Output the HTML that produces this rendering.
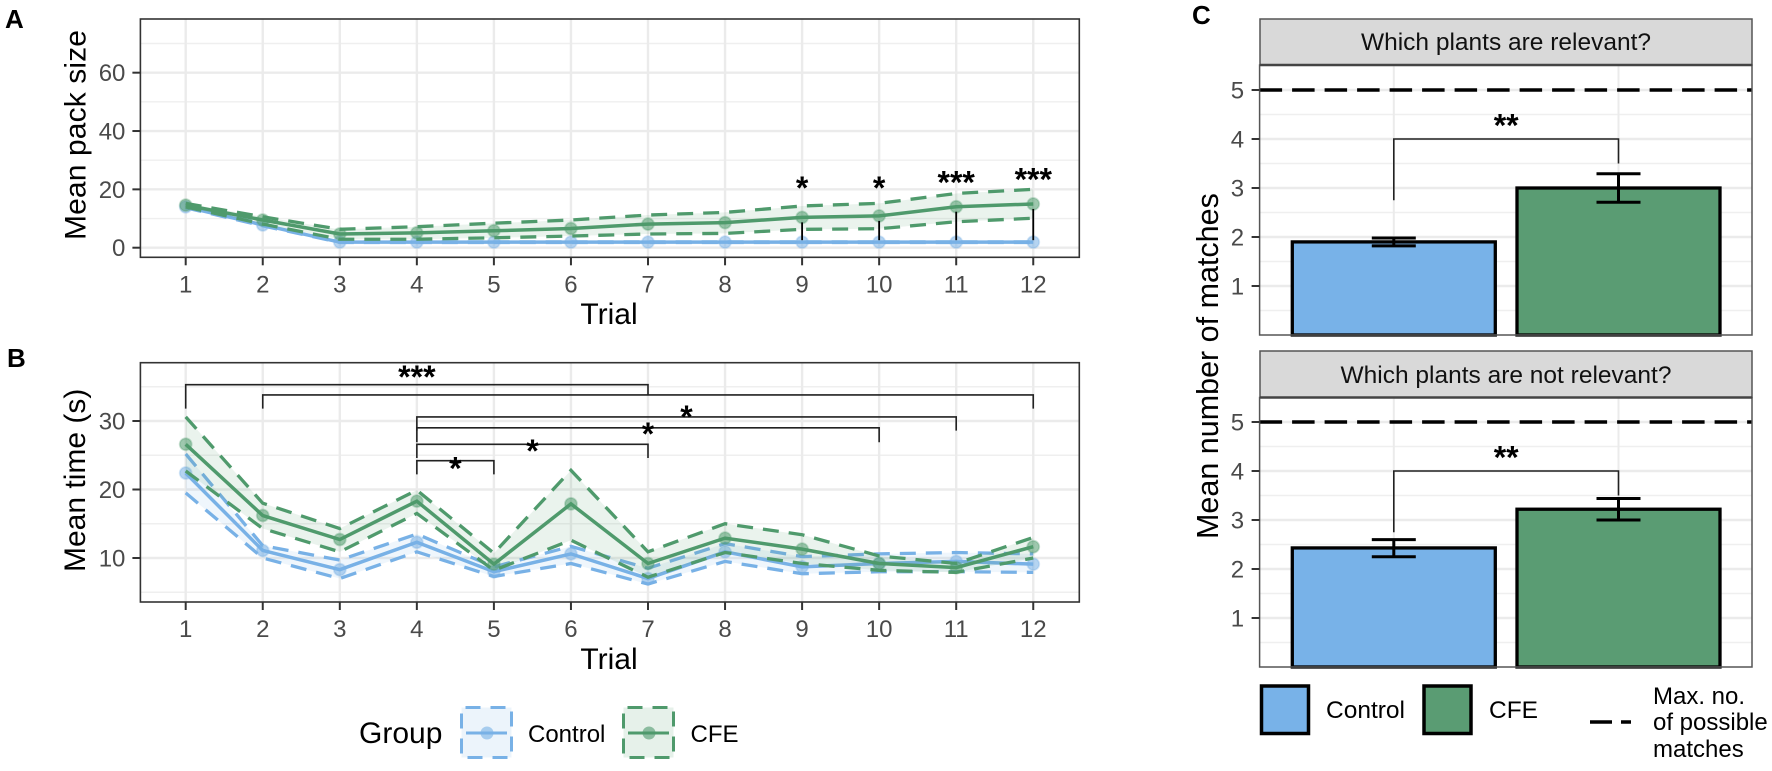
<!DOCTYPE html>
<html lang="en">
<head>
<meta charset="utf-8">
<title>Pack size, time and plant matches by group</title>
<style>
  html, body { margin: 0; padding: 0; background: #fff; }
  svg { display: block; font-family: "Liberation Sans", Arial, sans-serif; }
  .tick { font-size: 24px; fill: #4a4a4a; }
  .title { font-size: 30px; fill: #000; }
  .tag { font-size: 26px; font-weight: bold; fill: #000; }
  .leg { font-size: 24px; fill: #000; }
  .star { font-size: 32px; font-weight: bold; fill: #000; text-anchor: middle; }
</style>
</head>
<body>
<svg id="figure" xmlns="http://www.w3.org/2000/svg" width="1772" height="771" viewBox="0 0 1772 771">
  <rect width="1772" height="771" fill="#fff"/>

  <text class="tag" x="5" y="28">A</text>
  <text class="tag" x="7" y="367">B</text>
  <text class="tag" x="1192" y="24">C</text>

  <g id="panelA"></g>
  <g id="panelB"></g>
  <g id="panelC1"></g>
  <g id="panelC2"></g>

  <text class="title" transform="translate(85.5,240) rotate(-90)" textLength="210">Mean pack size</text>
  <text class="title" x="609" y="324" text-anchor="middle">Trial</text>
  <text class="title" transform="translate(85,572) rotate(-90)">Mean time (s)</text>
  <text class="title" x="609" y="669" text-anchor="middle">Trial</text>
  <text class="title" transform="translate(1218,539) rotate(-90)" style="font-size:30.5px">Mean number of matches</text>

  <rect x="1260" y="19" width="492" height="46" fill="#d9d9d9" stroke="#555" stroke-width="1.5"/>
  <line x1="1260" x2="1752" y1="65" y2="65" stroke="#444" stroke-width="2.5"/>
  <text x="1506" y="50" text-anchor="middle" style="font-size:24.5px" fill="#111">Which plants are relevant?</text>
  <rect x="1260" y="351" width="492" height="46.5" fill="#d9d9d9" stroke="#555" stroke-width="1.5"/>
  <line x1="1260" x2="1752" y1="397.5" y2="397.5" stroke="#444" stroke-width="2.5"/>
  <text x="1506" y="383" text-anchor="middle" style="font-size:24.5px" fill="#111">Which plants are not relevant?</text>

  <g>
    <text class="title" x="359" y="743">Group</text>
    <g>
      <rect x="461.5" y="707.5" width="50" height="50" fill="#78b1e6" fill-opacity="0.14" stroke="#78b1e6" stroke-width="3" stroke-dasharray="15 10" stroke-dashoffset="-4"/>
      <line x1="466" x2="507" y1="733" y2="733" stroke="#78b1e6" stroke-width="3"/>
      <circle cx="487" cy="733" r="6.5" fill="#78b1e6" fill-opacity="0.6"/>
      <text class="leg" x="528" y="742">Control</text>
    </g>
    <g>
      <rect x="623.5" y="707.5" width="50" height="50" fill="#4f9a6c" fill-opacity="0.14" stroke="#4f9a6c" stroke-width="3" stroke-dasharray="15 10" stroke-dashoffset="-4"/>
      <line x1="628" x2="669" y1="733" y2="733" stroke="#4f9a6c" stroke-width="3"/>
      <circle cx="649" cy="733" r="6.5" fill="#4f9a6c" fill-opacity="0.6"/>
      <text class="leg" x="690.5" y="742">CFE</text>
    </g>
  </g>

  <g>
    <g>
      <rect x="1261.5" y="686" width="47" height="47.5" fill="#78b2e8" stroke="#000" stroke-width="3.5"/>
      <text class="leg" x="1326" y="718" style="font-size:24.5px">Control</text>
    </g>
    <g>
      <rect x="1424" y="686" width="47" height="47.5" fill="#5a9c73" stroke="#000" stroke-width="3.5"/>
      <text class="leg" x="1489" y="718" style="font-size:24.5px">CFE</text>
    </g>
    <g>
      <line x1="1590" x2="1631" y1="722" y2="722" stroke="#000" stroke-width="3.5" stroke-dasharray="22 9"/>
      <text class="leg" x="1653" y="704">Max. no.</text>
      <text class="leg" x="1653" y="730">of possible</text>
      <text class="leg" x="1653" y="757">matches</text>
    </g>
  </g>
</svg>

<script>
// ---- Line chart data ----
const trials = [1, 2, 3, 4, 5, 6, 7, 8, 9, 10, 11, 12];

const packTicks = [0, 20, 40, 60];
const packMinorTicks = [10, 30, 50, 70];
const packControlMean = [14.0, 7.8, 1.9, 1.9, 1.9, 1.9, 1.9, 1.9, 1.9, 1.9, 1.9, 1.9];
const packControlUpper = [14.3, 8.1, 2.0, 2.0, 2.0, 2.0, 2.0, 2.0, 2.0, 2.0, 2.0, 2.0];
const packControlLower = [13.7, 7.5, 1.8, 1.8, 1.8, 1.8, 1.8, 1.8, 1.8, 1.8, 1.8, 1.8];
const packCfeMean = [14.6, 9.5, 4.7, 5.1, 5.8, 6.6, 8.1, 8.6, 10.4, 10.9, 14.05, 15.0];
const packCfeUpper = [15.2, 10.6, 6.3, 7.2, 8.4, 9.5, 11.2, 12.1, 14.3, 15.2, 18.6, 20.0];
const packCfeLower = [14.0, 8.1, 2.9, 2.9, 3.4, 4.0, 4.7, 4.9, 6.3, 6.5, 8.9, 10.1];
const packSigTrials = [9, 10, 11, 12];
const packSigLabels = ['*', '*', '***', '***'];
const packSigHeights = [22.4, 22.4, 24.3, 25.3];

const timeTicks = [10, 20, 30];
const timeMinorTicks = [5, 15, 25, 35];
const timeControlMean = [22.4, 11.1, 8.3, 12.3, 8.0, 10.6, 7.0, 10.9, 8.7, 9.2, 9.5, 9.1];
const timeControlUpper = [25.2, 11.8, 9.7, 13.5, 8.7, 11.7, 8.5, 12.1, 10.2, 10.6, 10.8, 10.6];
const timeControlLower = [19.5, 10.0, 7.0, 10.9, 7.3, 9.2, 6.2, 9.5, 7.7, 8.0, 8.0, 7.9];
const timeCfeMean = [26.6, 16.2, 12.7, 18.3, 9.1, 17.9, 9.2, 12.9, 11.3, 9.2, 8.6, 11.65];
const timeCfeUpper = [30.6, 18.0, 14.3, 19.9, 10.7, 22.8, 10.9, 15.0, 13.4, 10.3, 9.2, 13.0];
const timeCfeLower = [22.7, 14.3, 10.9, 16.5, 8.2, 12.6, 7.2, 10.8, 9.2, 8.2, 7.9, 10.0];

const bracketFrom = [1, 2, 4, 4, 4, 4];
const bracketTo = [7, 12, 11, 10, 7, 5];
const bracketHeights = [35.3, 33.8, 30.6, 29.0, 26.6, 24.2];
const bracketLeftEnds = [31.8, 31.8, 28.6, 26.9, 24.6, 22.2];
const bracketRightEnds = [33.8, 31.8, 28.6, 26.9, 24.6, 22.2];
const bracketLabelTrials = [4, 7.5, 7, 5.5, 4.5];
const bracketLabelHeights = [37.2, 31.4, 28.9, 26.4, 23.9];
const bracketLabelTexts = ['***', '*', '*', '*', '*'];

// ---- Bar chart data ----
const barGroups = ['Control', 'CFE'];
const barTicks = [1, 2, 3, 4, 5];
const barMinorTicks = [0.5, 1.5, 2.5, 3.5, 4.5, 5.5];
const relevantMeans = [1.9, 3.0];
const relevantUpper = [1.98, 3.29];
const relevantLower = [1.82, 2.71];
const notRelevantMeans = [2.43, 3.22];
const notRelevantUpper = [2.6, 3.44];
const notRelevantLower = [2.25, 3.0];
const maxMatches = 5;
const relevantBracket = [4, 2.75, 3.5];
const notRelevantBracket = [4, 2.75, 3.5];

// ---- Styles / helpers ----
const BLUE = '#78b1e6';
const GREEN = '#4f9a6c';
const NS = 'http://www.w3.org/2000/svg';

function mk(tag, attrs, parent) {
  const e = document.createElementNS(NS, tag);
  for (const k in attrs) e.setAttribute(k, attrs[k]);
  parent.appendChild(e);
  return e;
}

const xTrial = t => 185.7 + 77.05 * (t - 1);
const yPack = v => 247.7 - 2.917 * v;
const yTime = v => 558 - 6.85 * (v - 10);

function drawLinePanel(root, box, yFn, majors, minors) {
  for (const v of minors) {
    const el = mk('line', {x1: box.l, x2: box.r, y1: yFn(v), y2: yFn(v), stroke: '#efefef', 'stroke-width': 1.4}, root);
    
    
  }
  for (const v of majors) {
    const el = mk('line', {x1: box.l, x2: box.r, y1: yFn(v), y2: yFn(v), stroke: '#ebebeb', 'stroke-width': 2.4}, root);
    
    
  }
  for (const t of trials) {
    const el = mk('line', {x1: xTrial(t), x2: xTrial(t), y1: box.t, y2: box.b, stroke: '#ebebeb', 'stroke-width': 2.4}, root);
    
    
  }
}

function drawLineAxes(root, box, yFn, majors) {
  const frame = mk('rect', {x: box.l, y: box.t, width: box.r - box.l, height: box.b - box.t, fill: 'none', stroke: '#333', 'stroke-width': 1.6}, root);
  
  
  for (const v of majors) {
    const tick = mk('line', {x1: box.l - 8, x2: box.l, y1: yFn(v), y2: yFn(v), stroke: '#333', 'stroke-width': 2}, root);
    
    
    const lab = mk('text', {class: 'tick', x: box.l - 15, y: yFn(v) + 8.5, 'text-anchor': 'end'}, root);
    lab.textContent = v;
    
    
  }
  for (const t of trials) {
    const tick = mk('line', {x1: xTrial(t), x2: xTrial(t), y1: box.b, y2: box.b + 8, stroke: '#333', 'stroke-width': 2}, root);
    
    
    const lab = mk('text', {class: 'tick', x: xTrial(t), y: box.b + 35, 'text-anchor': 'middle'}, root);
    lab.textContent = t;
    
    
  }
}

function pts(arr, yFn) {
  return arr.map((v, i) => xTrial(trials[i]) + ',' + yFn(v)).join(' ');
}

function drawSeries(root, yFn, mean, upper, lower, color, fillAlpha) {
  const ribbonPts = pts(upper, yFn) + ' ' + lower.map((v, i) => xTrial(trials[i]) + ',' + yFn(v)).reverse().join(' ');
  const ribbon = mk('polygon', {points: ribbonPts, fill: color, 'fill-opacity': fillAlpha}, root);
  
  
  const up = mk('polyline', {points: pts(upper, yFn), fill: 'none', stroke: color, 'stroke-width': 3.3, 'stroke-dasharray': '16 10'}, root);
  
  
  const lo = mk('polyline', {points: pts(lower, yFn), fill: 'none', stroke: color, 'stroke-width': 3.3, 'stroke-dasharray': '16 10'}, root);
  
  
  const line = mk('polyline', {points: pts(mean, yFn), fill: 'none', stroke: color, 'stroke-width': 3.5}, root);
  
  
  mean.forEach((v, i) => {
    const dot = mk('circle', {cx: xTrial(trials[i]), cy: yFn(v), r: 6, fill: color, 'fill-opacity': 0.55, stroke: color, 'stroke-opacity': 0.3, 'stroke-width': 1.8}, root);
    
    
  });
}

function star(root, x, centerY, label) {
  const s = mk('text', {class: 'star', x: x, y: centerY + 16.5}, root);
  s.textContent = label;
  
  
}

// ---- Panel A ----
const boxA = {l: 140.4, r: 1079.3, t: 19, b: 257.3};
const rootA = document.getElementById('panelA');
drawLinePanel(rootA, boxA, yPack, packTicks, packMinorTicks);
drawSeries(rootA, yPack, packControlMean, packControlUpper, packControlLower, BLUE, 0.12);
drawSeries(rootA, yPack, packCfeMean, packCfeUpper, packCfeLower, GREEN, 0.12);
packSigTrials.forEach((t, i) => {
  const idx = trials.indexOf(t);
  const gap = mk('line', {x1: xTrial(t), x2: xTrial(t), y1: yPack(packCfeMean[idx]) + 5, y2: yPack(packControlMean[idx]) - 2, stroke: '#000', 'stroke-width': 1.8}, rootA);
  
  
  star(rootA, xTrial(t), yPack(packSigHeights[i]), packSigLabels[i]);
});
drawLineAxes(rootA, boxA, yPack, packTicks);

// ---- Panel B ----
const boxB = {l: 140.4, r: 1079.3, t: 362.7, b: 602};
const rootB = document.getElementById('panelB');
drawLinePanel(rootB, boxB, yTime, timeTicks, timeMinorTicks);
drawSeries(rootB, yTime, timeControlMean, timeControlUpper, timeControlLower, BLUE, 0.12);
drawSeries(rootB, yTime, timeCfeMean, timeCfeUpper, timeCfeLower, GREEN, 0.12);
bracketFrom.forEach((from, i) => {
  const to = bracketTo[i];
  const d = 'M' + xTrial(from) + ' ' + yTime(bracketLeftEnds[i]) +
            'V' + yTime(bracketHeights[i]) +
            'H' + xTrial(to) +
            'V' + yTime(bracketRightEnds[i]);
  const br = mk('path', {d: d, fill: 'none', stroke: '#222', 'stroke-width': 1.6}, rootB);
  
  
});
bracketLabelTexts.forEach((label, i) => {
  star(rootB, xTrial(bracketLabelTrials[i]), yTime(bracketLabelHeights[i]), label);
});
drawLineAxes(rootB, boxB, yTime, timeTicks);

// ---- Panel C ----
function drawBars(root, top, zeroY, means, upper, lower, bracket) {
  const l = 1259.6, r = 1752;
  const y = v => zeroY - 49 * v;
  const xBar = i => 1393.8 + 224.7 * i;
  const halfBar = 101.5;
  for (const v of barMinorTicks) {
    const el = mk('line', {x1: l, x2: r, y1: y(v), y2: y(v), stroke: '#efefef', 'stroke-width': 1.4}, root);
    
    
  }
  for (const v of barTicks) {
    const el = mk('line', {x1: l, x2: r, y1: y(v), y2: y(v), stroke: '#ebebeb', 'stroke-width': 2.4}, root);
    
    
  }
  barGroups.forEach((g, i) => {
    const el = mk('line', {x1: xBar(i), x2: xBar(i), y1: top, y2: zeroY, stroke: '#ebebeb', 'stroke-width': 2}, root);
    
    
  });
  barGroups.forEach((g, i) => {
    const bar = mk('rect', {x: xBar(i) - halfBar, y: y(means[i]), width: 2 * halfBar, height: zeroY - y(means[i]), fill: i === 0 ? '#78b2e8' : '#5a9c73', stroke: '#000', 'stroke-width': 3.3}, root);
    
    
    const eb = 'M' + (xBar(i) - 22) + ' ' + y(upper[i]) + 'H' + (xBar(i) + 22) +
               'M' + xBar(i) + ' ' + y(upper[i]) + 'V' + y(lower[i]) +
               'M' + (xBar(i) - 22) + ' ' + y(lower[i]) + 'H' + (xBar(i) + 22);
    const err = mk('path', {d: eb, fill: 'none', stroke: '#000', 'stroke-width': 3}, root);
    
    
  });
  const maxLine = mk('line', {x1: l, x2: r, y1: y(maxMatches), y2: y(maxMatches), stroke: '#000', 'stroke-width': 3.5, 'stroke-dasharray': '22.5 10'}, root);
  
  
  const bd = 'M' + xBar(0) + ' ' + y(bracket[1]) + 'V' + y(bracket[0]) + 'H' + xBar(1) + 'V' + y(bracket[2]);
  const br = mk('path', {d: bd, fill: 'none', stroke: '#222', 'stroke-width': 1.6}, root);
  
  
  star(root, (xBar(0) + xBar(1)) / 2, y(bracket[0]) - 19, '**');
  const frame = mk('rect', {x: l, y: top, width: r - l, height: zeroY - top, fill: 'none', stroke: '#555', 'stroke-width': 1.5}, root);
  
  
  for (const v of barTicks) {
    const tick = mk('line', {x1: l - 8, x2: l, y1: y(v), y2: y(v), stroke: '#333', 'stroke-width': 2}, root);
    
    
    const lab = mk('text', {class: 'tick', x: l - 15.5, y: y(v) + 8.5, 'text-anchor': 'end'}, root);
    lab.textContent = v;
    
    
  }
}
drawBars(document.getElementById('panelC1'), 65, 335, relevantMeans, relevantUpper, relevantLower, relevantBracket);
drawBars(document.getElementById('panelC2'), 397.5, 667, notRelevantMeans, notRelevantUpper, notRelevantLower, notRelevantBracket);
</script>
</body>
</html>
